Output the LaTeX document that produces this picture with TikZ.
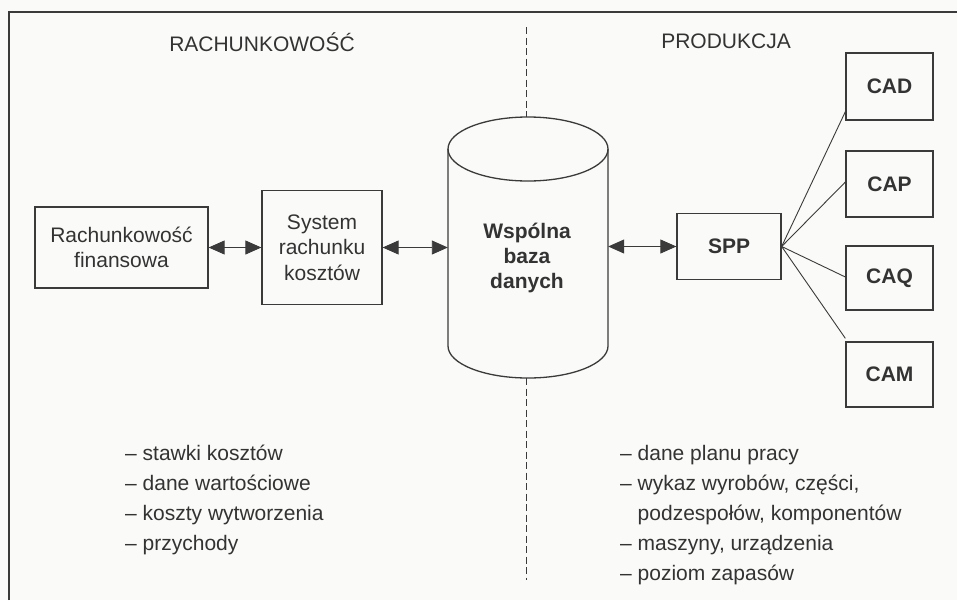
\documentclass[tikz,border=0pt]{standalone}
\usepackage{fontspec}
\setmainfont{Liberation Sans}
\usetikzlibrary{arrows.meta,calc}
\definecolor{ink}{HTML}{3A3A3A}
\definecolor{txt}{HTML}{333333}
\definecolor{paper}{HTML}{FAFAF8}
\tikzset{
  boxnode/.style={draw=ink, line width=1.3pt, inner sep=0pt, align=center, text=txt,
                  font=\fontsize{21}{25.5}\selectfont},
  boldbox/.style={boxnode, font=\fontsize{21}{25.5}\selectfont\bfseries},
  dbl/.style={line width=0.9pt, draw=ink, {Triangle[length=16pt,width=14pt]}-{Triangle[length=16pt,width=14pt]}},
  thinline/.style={line width=0.9pt, draw=ink},
  listnode/.style={anchor=north west, inner sep=0pt, align=left, text=txt,
                   font=\fontsize{21}{30}\selectfont},
  titlenode/.style={inner sep=0pt, text=txt, font=\fontsize{21}{24}\selectfont},
}
\begin{document}
\begin{tikzpicture}[x=1pt,y=-1pt]
\fill[paper] (0,0) rectangle (957,600);
\useasboundingbox (0,0) rectangle (957,600);
% frame
\draw[ink, line width=1.3pt] (9,600) -- (9,12) -- (957,12);
% titles
\node[titlenode] (t1) at (262,42) {RACHUNKOWOŚĆ};
\node[titlenode] (t2) at (726,41) {PRODUKCJA};
% boxes
\node[boxnode, minimum width=173pt, minimum height=81pt] (fin) at (121.5,247.5) {Rachunkowość\\finansowa};
\node[boxnode, minimum width=120pt, minimum height=114pt] (sys) at (322,247.5) {System\\rachunku\\kosztów};
\node[boldbox, minimum width=104pt, minimum height=66pt] (spp) at (729,246.5) {SPP};
\node[boldbox, minimum width=87pt, minimum height=67pt] (cad) at (889.5,86.5) {CAD};
\node[boldbox, minimum width=87pt, minimum height=66pt] (cap) at (889.5,184) {CAP};
\node[boldbox, minimum width=87pt, minimum height=64pt] (caq) at (889.5,278) {CAQ};
\node[boldbox, minimum width=87pt, minimum height=65pt] (cam) at (889.5,374.5) {CAM};
% database cylinder
\node[minimum width=160pt, minimum height=261pt, inner sep=0pt] (db) at (528,247.5) {};
\draw[ink, line width=1.3pt] (528,149) ellipse [x radius=80, y radius=32];
\draw[ink, line width=1.3pt] (448,149) -- (448,346) arc[start angle=180, end angle=0, x radius=80, y radius=32] -- (608,149);
\node[text=txt, inner sep=0pt, align=center, font=\fontsize{21}{25}\selectfont\bfseries] (dbtext) at (527,258) {Wspólna\\baza\\danych};
% dashed divider
\coordinate (dtop) at (526,27);
\coordinate (dbot) at (526,580);
\draw[ink, line width=0.9pt, dash pattern=on 7pt off 3.5pt] (dtop) -- (dtop |- db.north);
\draw[ink, line width=0.9pt, dash pattern=on 7pt off 3.5pt] (dbot |- db.south) -- (dbot);
% arrows
\draw[dbl] (fin.east) -- (fin.east -| sys.west);
\draw[dbl] (sys.east) -- (sys.east -| db.west);
\draw[dbl] (spp.west -| db.east) -- (spp.west);
% spp fan-out
\draw[thinline] (spp.east) -- ($(cad.south west)+(0,-9)$);
\draw[thinline] (spp.east) -- ($(cap.west)+(0,-2)$);
\draw[thinline] (spp.east) -- ($(caq.west)+(0,-1)$);
\draw[thinline] (spp.east) -- ($(cam.north west)+(0,-3)$);
% lists
\node[listnode] (l1) at (125,445) {– stawki kosztów\\– dane wartościowe\\– koszty wytworzenia\\– przychody};
\node[listnode] (l2) at (620,445) {– dane planu pracy\\– wykaz wyrobów, części,\\\hphantom{– }podzespołów, komponentów\\– maszyny, urządzenia\\– poziom zapasów};
\end{tikzpicture}
\end{document}
